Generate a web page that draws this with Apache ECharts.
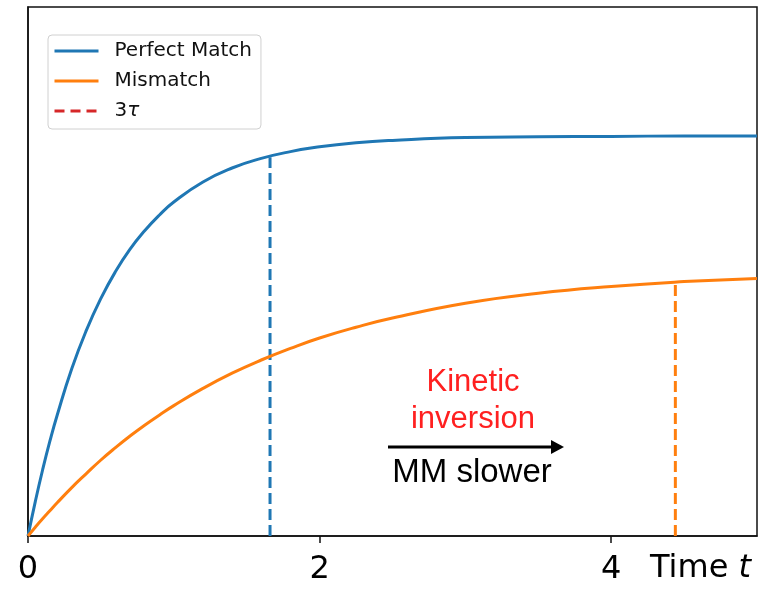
<!DOCTYPE html>
<html>
<head>
<meta charset="utf-8">
<script src="https://cdn.jsdelivr.net/npm/echarts@6/dist/echarts.min.js"></script>
<style>html,body{margin:0;padding:0;background:#fff;}#chart{width:772px;height:590px;}</style>
</head>
<body>
<div id="chart"></div>
<script>
// Time samples (x axis, "Time t")
var timeValues = [0, 0.05, 0.1, 0.15, 0.2, 0.3, 0.4, 0.5, 0.6, 0.7, 0.8, 0.9, 1.0, 1.2, 1.4, 1.6, 1.8, 2.0, 2.25, 2.5, 3.0, 3.5, 4.0, 4.5, 5.0];
// Perfect Match curve (plateau = 1)
var perfectMatch = [0, 0.086, 0.165, 0.237, 0.302, 0.418, 0.514, 0.594, 0.661, 0.717, 0.763, 0.802, 0.835, 0.885, 0.920, 0.944, 0.961, 0.973, 0.983, 0.989, 0.996, 0.998, 0.999, 1.0, 1.0];
// Mismatch curve
var mismatch = [0, 0.022, 0.043, 0.063, 0.083, 0.121, 0.156, 0.190, 0.221, 0.250, 0.277, 0.302, 0.326, 0.369, 0.407, 0.440, 0.469, 0.495, 0.522, 0.545, 0.582, 0.607, 0.624, 0.636, 0.644];
// 3 tau markers: times and heights
var tauTimes = [1.66, 4.44];
var tauLevels = [0.947, 0.632];
var legendNames = ['Perfect Match', 'Mismatch', '3τ'];
var xTickValues = [0, 2, 4];

var colors = {blue: '#1f77b4', orange: '#ff7f0e', red: '#d62728'};

function pairs(xs, ys) {
  return xs.map(function (x, i) { return [x, ys[i]]; });
}

var chart = echarts.init(document.getElementById('chart'), null, {renderer: 'canvas'});
var option = {
  animation: false,
  backgroundColor: '#fff',
  grid: {
    left: 28, right: 15, top: 7, bottom: 54,
    show: true, borderColor: '#111', borderWidth: 1.5, backgroundColor: 'transparent'
  },
  legend: {
    data: legendNames,
    orient: 'vertical',
    left: 48, top: 35,
    itemWidth: 44, itemHeight: 14, itemGap: 10,
    padding: [6, 9, 8, 5],
    borderColor: '#d0d0d0', borderWidth: 1, borderRadius: 4,
    backgroundColor: 'rgba(255,255,255,0.8)',
    itemStyle: { opacity: 0 },
    lineStyle: { width: 3 },
    textStyle: {
      fontFamily: 'DejaVu Sans', fontSize: 20, color: '#111', lineHeight: 20,
      padding: [0, 0, 0, 11],
      rich: { i: { fontFamily: 'DejaVu Sans', fontStyle: 'italic', fontSize: 20, color: '#111' } }
    },
    formatter: function (name) {
      if (name === '3τ') { return '3{i|τ}'; }
      return name;
    }
  },
  xAxis: {
    type: 'value', min: 0, max: 5, interval: 2,
    axisLine: { show: true, onZero: false, lineStyle: { color: '#111', width: 1.5 } },
    axisTick: { show: true, length: 7, customValues: xTickValues, lineStyle: { color: '#111', width: 1.5 } },
    axisLabel: {
      fontFamily: 'DejaVu Sans', fontSize: 32, color: '#000', margin: 18,
      customValues: xTickValues
    },
    splitLine: { show: false }
  },
  yAxis: {
    type: 'value', min: 0, max: 1.3225,
    axisLine: { show: true, lineStyle: { color: '#111', width: 1.5 } },
    axisTick: { show: false },
    axisLabel: { show: false },
    splitLine: { show: false }
  },
  series: [
    {
      name: 'Perfect Match', type: 'line', data: pairs(timeValues, perfectMatch),
      smooth: 0.5, symbol: 'none', showSymbol: false, color: colors.blue,
      lineStyle: { color: colors.blue, width: 3 }, z: 3
    },
    {
      name: 'Mismatch', type: 'line', data: pairs(timeValues, mismatch),
      smooth: 0.5, symbol: 'none', showSymbol: false, color: colors.orange,
      lineStyle: { color: colors.orange, width: 3 }, z: 3
    },
    {
      name: '3τ', type: 'line', data: [], symbol: 'none', showSymbol: false, color: colors.red,
      lineStyle: { color: colors.red, width: 3, type: [10, 6] }
    },
    {
      name: 'tauPM', type: 'line', data: [[tauTimes[0], 0], [tauTimes[0], tauLevels[0]]],
      symbol: 'none', color: colors.blue,
      lineStyle: { color: colors.blue, width: 3, type: [11, 5] }, z: 2
    },
    {
      name: 'tauMM', type: 'line', data: [[tauTimes[1], 0], [tauTimes[1], tauLevels[1]]],
      symbol: 'none', color: colors.orange,
      lineStyle: { color: colors.orange, width: 3, type: [11, 5] }, z: 2
    }
  ],
  graphic: [
    {
      type: 'text', left: 650, top: 553,
      style: {
        text: 'Time {i|t}', fontFamily: 'DejaVu Sans', fontSize: 32, fill: '#000',
        rich: { i: { fontFamily: 'DejaVu Sans', fontStyle: 'italic', fontSize: 32, fill: '#000' } }
      }
    },
    {
      type: 'text', x: 473, y: 382,
      style: { text: 'Kinetic', fontFamily: 'Liberation Sans', fontSize: 31, fill: '#ff2020', align: 'center', verticalAlign: 'middle' }
    },
    {
      type: 'text', x: 473, y: 419,
      style: { text: 'inversion', fontFamily: 'Liberation Sans', fontSize: 31, fill: '#ff2020', align: 'center', verticalAlign: 'middle' }
    },
    {
      type: 'line', shape: { x1: 388, y1: 447, x2: 553, y2: 447 },
      style: { stroke: '#000', lineWidth: 3 }
    },
    {
      type: 'polygon', shape: { points: [[551, 440], [564, 447], [551, 454]] },
      style: { fill: '#000' }
    },
    {
      type: 'text', x: 472, y: 473,
      style: { text: 'MM slower', fontFamily: 'Liberation Sans', fontSize: 33, fill: '#000', align: 'center', verticalAlign: 'middle' }
    }
  ]
};
chart.setOption(option);
</script>
</body>
</html>
